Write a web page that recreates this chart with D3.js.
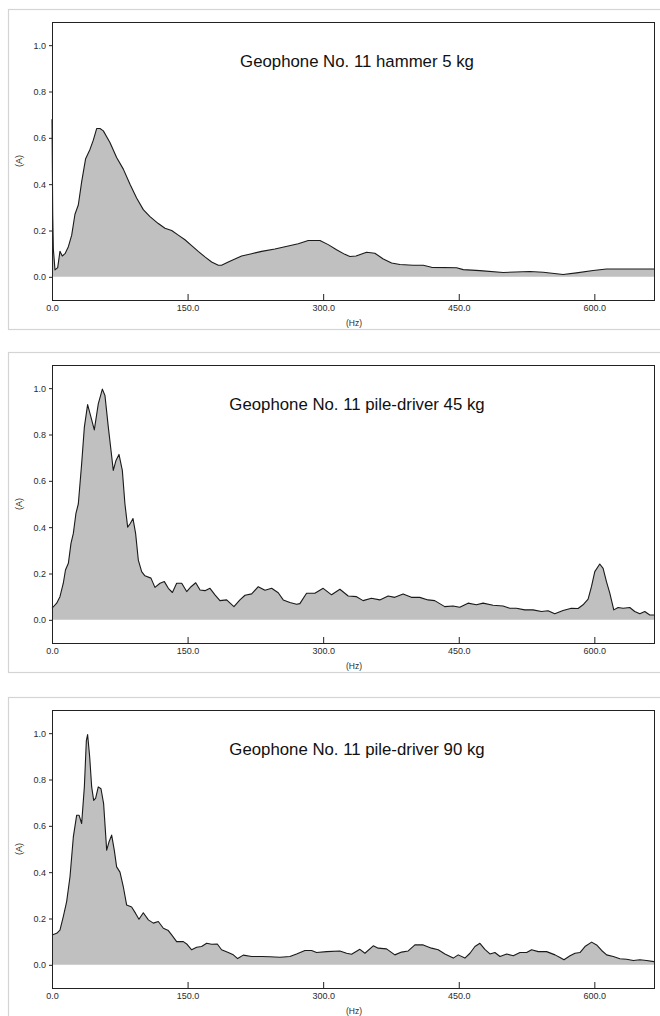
<!DOCTYPE html>
<html>
<head>
<meta charset="utf-8">
<script src="https://cdn.jsdelivr.net/npm/d3@7"></script>
<style>
  html, body { margin: 0; padding: 0; background: #fff; }
  svg { display: block; }
</style>
</head>
<body>
<svg id="chart" width="660" height="1016"></svg>
<script>
// ---------- data ----------
const titles = [
  "Geophone No. 11 hammer 5 kg",
  "Geophone No. 11 pile-driver 45 kg",
  "Geophone No. 11 pile-driver 90 kg"
];
const xTicks = [0, 150, 300, 450, 600];
const yTicks = [0, 0.2, 0.4, 0.6, 0.8, 1.0];
const xLabel = "(Hz)";
const yLabel = "(A)";

const hz1 = [0, 0.8, 1.5, 3.3, 6.3, 8.8, 11.4, 14.4, 18.1, 21.8,
  25.4, 29.1, 32.8, 37.2, 42.0, 45.7, 49.4, 53.1, 56.8, 64.1,
  71.5, 78.9, 86.3, 93.6, 101, 108.4, 117.6, 125, 132.4, 139.7,
  147.1, 154.5, 161.8, 169.2, 176.6, 184, 187.6, 195, 204.2, 209.8,
  220.8, 231.9, 246.6, 257.7, 272.4, 283.5, 296.4, 305.6, 314.8, 324,
  329.6, 336.3, 348, 357.2, 366.5, 375.7, 384.9, 399.6, 410.7, 419.9,
  447.6, 455, 473.4, 499.2, 528.7, 543.4, 565.5, 580.3, 598.7, 613.5,
  639.3, 666];
const amp1 = [0.68, 0.27, 0.12, 0.03, 0.04, 0.11, 0.09, 0.10, 0.13, 0.18,
  0.27, 0.31, 0.41, 0.51, 0.55, 0.59, 0.64, 0.64, 0.63, 0.58,
  0.515, 0.465, 0.40, 0.34, 0.29, 0.26, 0.23, 0.21, 0.20, 0.18,
  0.16, 0.135, 0.11, 0.086, 0.064, 0.05, 0.05, 0.064, 0.08, 0.09,
  0.10, 0.11, 0.12, 0.13, 0.143, 0.157, 0.157, 0.139, 0.117, 0.097,
  0.088, 0.09, 0.106, 0.102, 0.077, 0.06, 0.053, 0.05, 0.05, 0.041,
  0.039, 0.031, 0.027, 0.019, 0.023, 0.02, 0.01, 0.017, 0.027, 0.034,
  0.034, 0.034];

const hz2 = [0, 5.2, 8.8, 12.5, 14.9, 18.1, 21, 23.6, 26.5, 29.1,
  32.8, 35.8, 39.4, 43.1, 46.8, 51.2, 55.7, 58.6, 62.3, 65.3,
  67.8, 70.8, 74.1, 77.8, 80.7, 83.7, 86.6, 89.6, 92.5, 95.5,
  99.2, 102.8, 109.5, 113.9, 119.5, 124.3, 128.7, 133.2, 137.9, 143.5,
  149, 153.8, 159, 163.8, 169.2, 174.8, 180.3, 185.8, 193.2, 201.3,
  207.9, 213.5, 220.9, 228.2, 235.6, 243, 250.3, 255.8, 263.2, 270.6,
  274.2, 281.6, 290.8, 300, 309.3, 318.5, 327.7, 336.9, 344.2, 353.4,
  362.6, 371.9, 379.2, 388.4, 397.6, 406.8, 416, 423.4, 434.5, 443.7,
  451.1, 460.3, 469.5, 476.9, 488, 499, 506.4, 513.8, 523, 532.2,
  541.5, 548.8, 556.2, 565.4, 574.6, 582, 587.5, 593.1, 596.8, 600.5,
  606, 609.7, 613.4, 617.1, 621.5, 626.3, 631.8, 639.2, 644.7, 650.3,
  655.8, 661.3, 666];
const amp2 = [0.05, 0.072, 0.10, 0.158, 0.215, 0.244, 0.33, 0.373, 0.46, 0.50,
  0.674, 0.832, 0.929, 0.875, 0.82, 0.932, 0.996, 0.968, 0.832, 0.731,
  0.645, 0.688, 0.714, 0.645, 0.50, 0.40, 0.416, 0.437, 0.373, 0.258,
  0.208, 0.19, 0.18, 0.14, 0.158, 0.165, 0.136, 0.118, 0.158, 0.158,
  0.122, 0.143, 0.16, 0.129, 0.126, 0.136, 0.108, 0.083, 0.086, 0.057,
  0.086, 0.106, 0.112, 0.143, 0.128, 0.136, 0.117, 0.086, 0.075, 0.067,
  0.07, 0.115, 0.115, 0.136, 0.108, 0.132, 0.103, 0.10, 0.083, 0.093,
  0.086, 0.103, 0.097, 0.112, 0.097, 0.097, 0.086, 0.083, 0.057, 0.06,
  0.054, 0.072, 0.065, 0.072, 0.063, 0.06, 0.05, 0.05, 0.043, 0.043,
  0.036, 0.039, 0.026, 0.04, 0.05, 0.049, 0.065, 0.089, 0.143, 0.208,
  0.241, 0.222, 0.165, 0.115, 0.043, 0.053, 0.05, 0.053, 0.036, 0.026,
  0.036, 0.021, 0.021];

const hz3 = [0, 5.2, 8.8, 12.5, 16.2, 19.9, 23.6, 27.3, 29.9, 32.8,
  35.8, 38, 39.4, 41.7, 43.9, 46.1, 48.3, 51.2, 54.2, 57.1,
  60.5, 63, 66, 68.9, 71.5, 75.2, 78.9, 82.6, 88.1, 92.5,
  96.2, 101, 106.6, 112.1, 117.6, 123.2, 128.7, 132.4, 137.9, 145.3,
  149, 154.5, 160, 165.5, 171.1, 176.6, 182.9, 187.6, 195, 200.6,
  205.4, 211.6, 220.9, 231.9, 241.1, 252.2, 263.2, 270.6, 279.8, 287.2,
  292.7, 303.8, 318.5, 325.9, 331.4, 340.6, 346.2, 355.4, 360.9, 370.1,
  379.3, 386.7, 394.1, 401.5, 410.7, 419.9, 427.3, 434.7, 443.9, 449.4,
  456.8, 462.4, 467.9, 473.4, 478.9, 484.5, 490, 495.6, 503, 510.3,
  517.7, 525.1, 530.6, 538, 547.2, 556.5, 562, 566.4, 573.1, 578.6,
  584.1, 589.6, 597, 602.5, 608.1, 613.6, 621, 628.3, 635.7, 643.1,
  650.4, 657.8, 666];
const amp3 = [0.129, 0.136, 0.15, 0.208, 0.273, 0.38, 0.552, 0.646, 0.646, 0.61,
  0.768, 0.968, 0.994, 0.897, 0.768, 0.71, 0.72, 0.768, 0.76, 0.696,
  0.495, 0.53, 0.56, 0.495, 0.423, 0.40, 0.337, 0.258, 0.25, 0.222,
  0.197, 0.225, 0.194, 0.18, 0.187, 0.158, 0.148, 0.129, 0.10, 0.10,
  0.09, 0.065, 0.076, 0.079, 0.093, 0.089, 0.09, 0.065, 0.053, 0.043,
  0.027, 0.042, 0.036, 0.036, 0.035, 0.033, 0.036, 0.047, 0.062, 0.062,
  0.053, 0.057, 0.06, 0.05, 0.046, 0.067, 0.05, 0.082, 0.072, 0.069,
  0.043, 0.055, 0.06, 0.086, 0.086, 0.072, 0.065, 0.047, 0.029, 0.043,
  0.029, 0.05, 0.079, 0.093, 0.067, 0.047, 0.053, 0.036, 0.047, 0.039,
  0.053, 0.053, 0.065, 0.057, 0.057, 0.043, 0.032, 0.022, 0.039, 0.05,
  0.053, 0.079, 0.098, 0.086, 0.062, 0.043, 0.036, 0.026, 0.024, 0.019,
  0.022, 0.019, 0.014];

const series = [
  { hz: hz1, amp: amp1, title: titles[0] },
  { hz: hz2, amp: amp2, title: titles[1] },
  { hz: hz3, amp: amp3, title: titles[2] }
];

// ---------- layout ----------
const plotTops = [22, 365, 710];
const plotH = 278;
const plotL = 52, plotR = 654;
const FONT = "Arial, 'Liberation Sans', sans-serif";

const svg = d3.select("#chart");

const x = d3.scaleLinear().domain([0, 666]).range([plotL, plotR]);

series.forEach((s, i) => {
  const top = plotTops[i];
  const y = d3.scaleLinear().domain([-0.1, 1.1]).range([top + plotH, top]);
  const data = s.hz.map((h, k) => ({ h, a: s.amp[k] }));
  const g = svg.append("g");

  // outer light frame
  g.append("rect")
    .attr("x", 8.5).attr("y", top - 12.5)
    .attr("width", 670).attr("height", plotH + 42)
    .attr("fill", "none").attr("stroke", "#d4d4d4").attr("stroke-width", 1.2);

  // area + line
  const area = d3.area().x(d => x(d.h)).y0(y(0)).y1(d => y(d.a));
  const line = d3.line().x(d => x(d.h)).y(d => y(d.a));
  g.append("path").datum(data).attr("d", area).attr("fill", "#c0c0c0");
  g.append("path").datum(data).attr("d", line)
    .attr("fill", "none").attr("stroke", "#1a1a1a").attr("stroke-width", 1.1)
    .attr("stroke-linejoin", "round");

  // plot box
  g.append("rect")
    .attr("x", plotL + 0.5).attr("y", top + 0.5)
    .attr("width", plotR - plotL).attr("height", plotH)
    .attr("fill", "none").attr("stroke", "#222").attr("stroke-width", 1);

  // y axis
  const yAxis = d3.axisLeft(y).tickValues(yTicks).tickFormat(d3.format(".1f"))
    .tickSize(3).tickPadding(3);
  const ya = g.append("g").attr("transform", `translate(${plotL},0)`).call(yAxis);
  ya.select(".domain").remove();
  ya.selectAll("line").attr("stroke", "#222");
  ya.selectAll("text").attr("font-family", FONT).attr("font-size", 9).attr("fill", "#2b2b2b");

  // x axis (ticks pointing inward)
  const xAxis = d3.axisBottom(x).tickValues(xTicks).tickFormat(d3.format(".1f"))
    .tickSizeInner(-6).tickSizeOuter(0).tickPadding(4);
  const xa = g.append("g").attr("transform", `translate(0,${top + plotH})`).call(xAxis);
  xa.select(".domain").remove();
  xa.selectAll("line").attr("stroke", "#222");
  xa.selectAll("text").attr("font-family", FONT).attr("font-size", 9).attr("fill", "#2b2b2b")
    .attr("y", 5).attr("dy", "0.71em");

  // axis labels
  g.append("text")
    .attr("x", 354).attr("y", top + plotH + 26)
    .attr("text-anchor", "middle").attr("font-family", FONT).attr("font-size", 8.5)
    .attr("fill", "#2b2b2b").text(xLabel);
  g.append("text")
    .attr("transform", `translate(22,${top + plotH / 2}) rotate(-90)`)
    .attr("text-anchor", "middle").attr("font-family", FONT).attr("font-size", 9)
    .attr("fill", "#3a2b22").text(yLabel);

  // title
  g.append("text")
    .attr("x", 357).attr("y", top + 44.5)
    .attr("text-anchor", "middle").attr("font-family", FONT).attr("font-size", 16.8)
    .attr("fill", "#111").text(s.title);
});
</script>
</body>
</html>
